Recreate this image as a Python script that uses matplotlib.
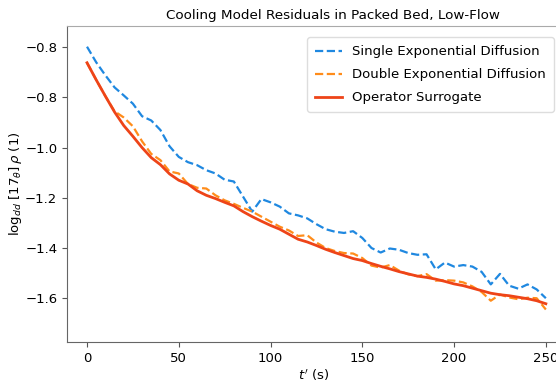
import numpy as np
import matplotlib
matplotlib.use("Agg")
from matplotlib import pyplot as plt

t = np.arange(0, 251, 5)

single_exp = [-0.598, -0.660, -0.712, -0.760, -0.792, -0.825, -0.875, -0.892, -0.930, -0.995,
              -1.037, -1.058, -1.070, -1.090, -1.103, -1.128, -1.135, -1.195, -1.255, -1.205,
              -1.218, -1.235, -1.262, -1.270, -1.282, -1.305, -1.325, -1.335, -1.340, -1.333,
              -1.360, -1.400, -1.418, -1.402, -1.407, -1.420, -1.427, -1.425, -1.485, -1.458,
              -1.474, -1.468, -1.474, -1.495, -1.545, -1.503, -1.550, -1.562, -1.545, -1.565,
              -1.600]
double_exp = [-0.662, -0.730, -0.795, -0.855, -0.880, -0.915, -0.975, -1.025, -1.050, -1.095,
              -1.103, -1.145, -1.160, -1.163, -1.190, -1.210, -1.224, -1.240, -1.255, -1.275,
              -1.295, -1.315, -1.330, -1.352, -1.349, -1.378, -1.400, -1.412, -1.420, -1.422,
              -1.440, -1.470, -1.478, -1.468, -1.490, -1.505, -1.512, -1.504, -1.530, -1.528,
              -1.530, -1.537, -1.553, -1.575, -1.610, -1.585, -1.597, -1.604, -1.598, -1.600,
              -1.645]
surrogate = [-0.662, -0.730, -0.795, -0.858, -0.912, -0.955, -1.000, -1.040, -1.068, -1.105,
             -1.130, -1.145, -1.172, -1.190, -1.203, -1.218, -1.232, -1.255, -1.275, -1.293,
             -1.310, -1.325, -1.345, -1.365, -1.376, -1.390, -1.405, -1.418, -1.430, -1.442,
             -1.450, -1.462, -1.473, -1.483, -1.494, -1.503, -1.512, -1.517, -1.524, -1.533,
             -1.543, -1.550, -1.560, -1.570, -1.580, -1.586, -1.590, -1.596, -1.602, -1.610,
             -1.622]

yticks = [-0.6, -0.8, -1.0, -1.2, -1.4, -1.6]
ytick_labels = ['\u22120.8', '\u22120.8', '\u22121.0', '\u22121.2', '\u22121.4', '\u22121.6']
xticks = [0, 50, 100, 150, 200, 250]

fig = plt.figure(figsize=(5.56, 3.84), dpi=100)
ax = fig.add_axes([0.1205, 0.109, 0.887, 0.823])

ax.plot(t, single_exp, '--', color='#1f88e0', lw=1.6, label='Single Exponential Diffusion')
ax.plot(t, double_exp, '--', color='#ff8c1a', lw=1.6, label='Double Exponential Diffusion')
ax.plot(t, surrogate, '-', color='#ee4418', lw=2.0, label='Operator Surrogate')

ax.set_xlim(-10.9, 257.8)
ax.set_ylim(-1.775, -0.516)
ax.set_xticks(xticks)
ax.set_yticks(yticks)
ax.set_yticklabels(ytick_labels)
ax.tick_params(labelsize=9.5, color='#555555', length=3.5)
for s in ax.spines.values():
    s.set_color('#666666')
ax.spines['top'].set_color('#aaaaaa')

ax.set_title('Cooling Model Residuals in Packed Bed, Low-Flow', fontsize=9.7, x=0.54, pad=5)
ax.set_xlabel(r"$t'$ (s)", fontsize=9.5, labelpad=2)
ax.set_ylabel(r'$\log_{dd}\,[17_\theta]\,\rho$ (1)', fontsize=9.5, labelpad=1)

leg = ax.legend(loc='upper left', bbox_to_anchor=(0.474, 0.985), fontsize=9.5,
                handlelength=2.0, labelspacing=0.75, borderpad=0.6, framealpha=1)
leg.get_frame().set_edgecolor('#dddddd')

fig.savefig('out.png', dpi=100)
